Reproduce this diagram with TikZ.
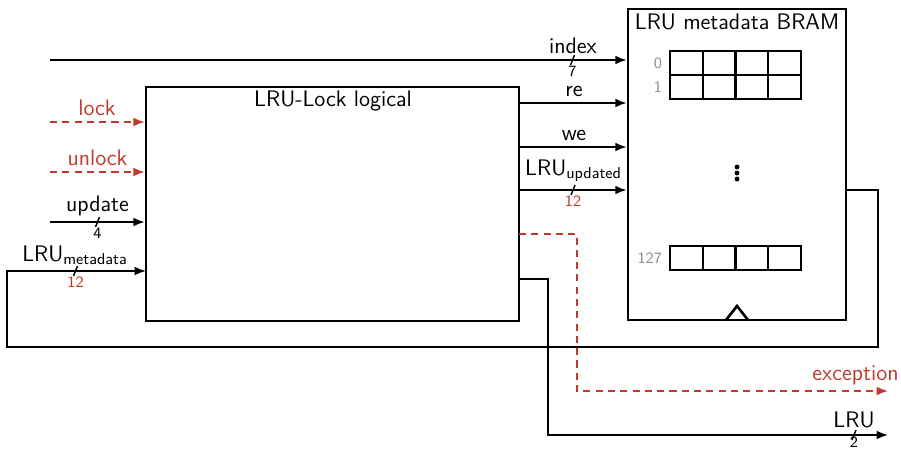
\documentclass[tikz,border=0pt]{standalone}
\usepackage{amsmath}
\usepackage{tikz}
\usetikzlibrary{arrows.meta}

\definecolor{sigred}{RGB}{192,57,43}
\tikzset{
  block/.style={draw=black, line width=1.5pt, inner sep=0pt},
  cell/.style={draw=black, line width=1.3pt},
  wire/.style={line width=1pt, -{Latex[length=6.5pt,width=5pt]}},
  ctrl/.style={wire, draw=sigred, dash pattern=on 4pt off 3pt},
  sig/.style={font=\sffamily\fontsize{12.8}{15}\selectfont, anchor=south, inner sep=1pt},
  ctrlsig/.style={sig, text=sigred},
  title/.style={font=\sffamily\fontsize{12.8}{15}\selectfont, inner sep=1pt},
  tick/.style={line width=0.8pt},
  buswd/.style={font=\sffamily\small, anchor=north, inner sep=1pt},
  rowidx/.style={font=\sffamily\small, text=black!45, anchor=east, inner sep=1pt}
}

\begin{document}
\begin{tikzpicture}[x=0.02cm, y=-0.02cm]
  \useasboundingbox (0,0) rectangle (901,450);

  % the two blocks
  \node[block, minimum width=7.46cm, minimum height=4.68cm] (logic) at (332.5,204) {};
  \node[block, minimum width=4.36cm, minimum height=6.22cm] (bram) at (737,164.5) {};
  \node[title] (logicname) at (333,101) {LRU-Lock logical};
  \node[title] (bramname) at (737,22) {LRU metadata BRAM};

  % memory rows
  \foreach \r/\y in {0/51, 1/75, 127/246} {
    \foreach \c in {0,...,3}
      \draw[cell] (670+\c*32.75,\y) rectangle ++(32.75,24);
    \node[rowidx] (row\r) at (664,\y+12) {\r};
  }
  \foreach \y in {167,173,179}
    \fill (737,\y) circle (1.4pt);
  % clock input
  \draw[block, line join=miter] (726,320) -- (737,306) -- (748,320);

  % pins and free ends
  \coordinate (indexin) at (50,60);
  \coordinate (lockin) at (50,122);
  \coordinate (unlockin) at (50,172);
  \coordinate (updatein) at (50,222);
  \coordinate (metain) at (146,271);
  \coordinate (reout) at (519,103);
  \coordinate (weout) at (519,147);
  \coordinate (updout) at (519,190);
  \coordinate (excsrc) at (519,234);
  \coordinate (lrusrc) at (519,279);
  \coordinate (bramout) at (846,190);
  \coordinate (loopR) at (878,347);
  \coordinate (loopL) at (7,347);
  \coordinate (excbend) at (577,391);
  \coordinate (lrubend) at (548,435);
  \coordinate (excout) at (888,391);
  \coordinate (lruout) at (888,435);

  % inputs of the logic
  \draw[ctrl] (lockin) -- (lockin -| logic.west);
  \node[ctrlsig] (locklbl) at (97,118) {lock};
  \draw[ctrl] (unlockin) -- (unlockin -| logic.west);
  \node[ctrlsig] (unlocklbl) at (97.5,168) {unlock};
  \draw[wire] (updatein) -- (updatein -| logic.west);
  \node[sig] (updatelbl) at (97.5,218) {update};
  \draw[tick] (97.5,222) ++(-2,5) -- ++(4,-10);
  \node[buswd] (updatew) at (97.5,226) {4};

  % logic to BRAM
  \draw[wire] (indexin) -- (indexin -| bram.west);
  \node[sig] (indexlbl) at (573,56) {index};
  \draw[tick] (572.5,60) ++(-2,5) -- ++(4,-10);
  \node[buswd] (indexw) at (572.5,64) {7};
  \draw[wire] (reout) -- (reout -| bram.west);
  \node[sig] (relbl) at (574,99) {re};
  \draw[wire] (weout) -- (weout -| bram.west);
  \node[sig] (welbl) at (574,143) {we};
  \draw[wire] (updout) -- (updout -| bram.west);
  \node[sig] (updlbl) at (573.5,184) {LRU\textsubscript{updated}};
  \draw[tick] (573,190) ++(-2,5) -- ++(4,-10);
  \node[buswd, text=sigred] (updw) at (573,194) {12};

  % BRAM output back into the logic
  \draw[wire] (bramout) -| (loopR) -- (loopL) |- (metain);
  \node[sig] (metalbl) at (75,267) {LRU\textsubscript{metadata}};
  \draw[tick] (75.5,271) ++(-2,5) -- ++(4,-10);
  \node[buswd, text=sigred] (metaw) at (75.5,275) {12};

  % outputs
  \draw[ctrl] (excsrc) -| (excbend) -- (excout);
  \node[ctrlsig] (exclbl) at (855.5,387) {exception};
  \draw[wire] (lrusrc) -| (lrubend) -- (lruout);
  \node[sig] (lrulbl) at (854,430) {LRU};
  \draw[tick] (854,435) ++(-2,5) -- ++(4,-10);
  \node[buswd, inner sep=0pt] (lruw) at (854,436.5) {2};
\end{tikzpicture}
\end{document}
